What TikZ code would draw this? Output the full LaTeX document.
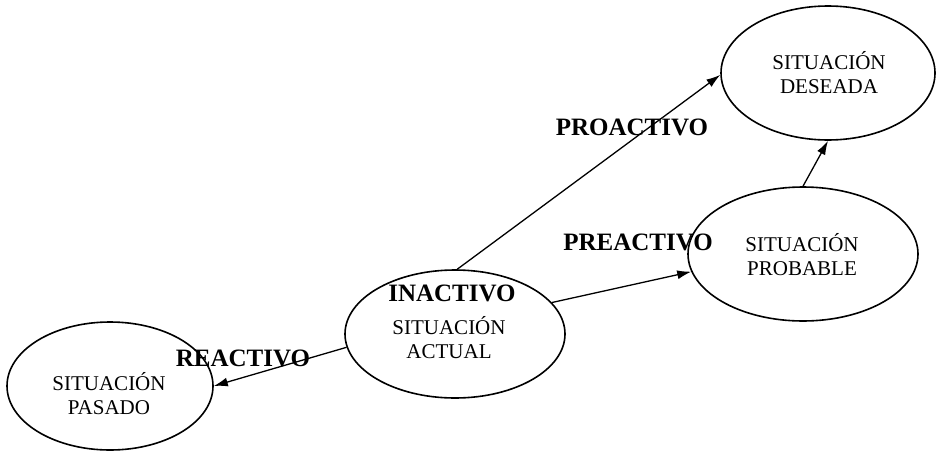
\documentclass[tikz,border=0pt]{standalone}
\usepackage{fontspec}
\setmainfont{Liberation Serif}
\usetikzlibrary{shapes.geometric,arrows.meta}
\begin{document}
\begin{tikzpicture}[x=1pt,y=-1pt,
  situacion/.style={draw, ellipse, line width=1.6pt, inner sep=0pt},
  rotulo/.style={font=\fontsize{21}{24}\selectfont, align=center, inner sep=0pt},
  actitud/.style={font=\fontsize{25}{28}\selectfont\bfseries, inner sep=0pt},
  flecha/.style={line width=1.3pt, -{Latex[length=14pt,width=9pt]}}]
\useasboundingbox (0,0) rectangle (939,455);

% situaciones
\node[situacion, minimum width=206pt, minimum height=128pt] (pas) at (110,386) {};
\node[situacion, minimum width=220pt, minimum height=128pt] (act) at (455,334) {};
\node[situacion, minimum width=230pt, minimum height=134pt] (pro) at (803,254) {};
\node[situacion, minimum width=214pt, minimum height=134pt] (des) at (828,73) {};

\node[rotulo] (tpas) at (109,394) {SITUACIÓN\\PASADO};
\node[rotulo] (tact) at (449,338) {SITUACIÓN\\ACTUAL};
\node[rotulo] (tpro) at (802,255) {SITUACIÓN\\PROBABLE};
\node[rotulo] (tdes) at (829,73) {SITUACIÓN\\DESEADA};

% actitudes
\node[actitud] (proact) at (632,127) {PROACTIVO};
\node[actitud] (preact) at (638,242) {PREACTIVO};
\node[actitud] (inact) at (452,293) {INACTIVO};
\node[actitud] (react) at (243,358) {REACTIVO};

% conectores
\draw[flecha] (act.88) -- (des.181);
\draw[flecha] (act.18) -- (pro.189);
\draw[flecha] (pro.90) -- (des.270);
\draw[flecha] (act.187) -- (pas.0);
\end{tikzpicture}
\end{document}
